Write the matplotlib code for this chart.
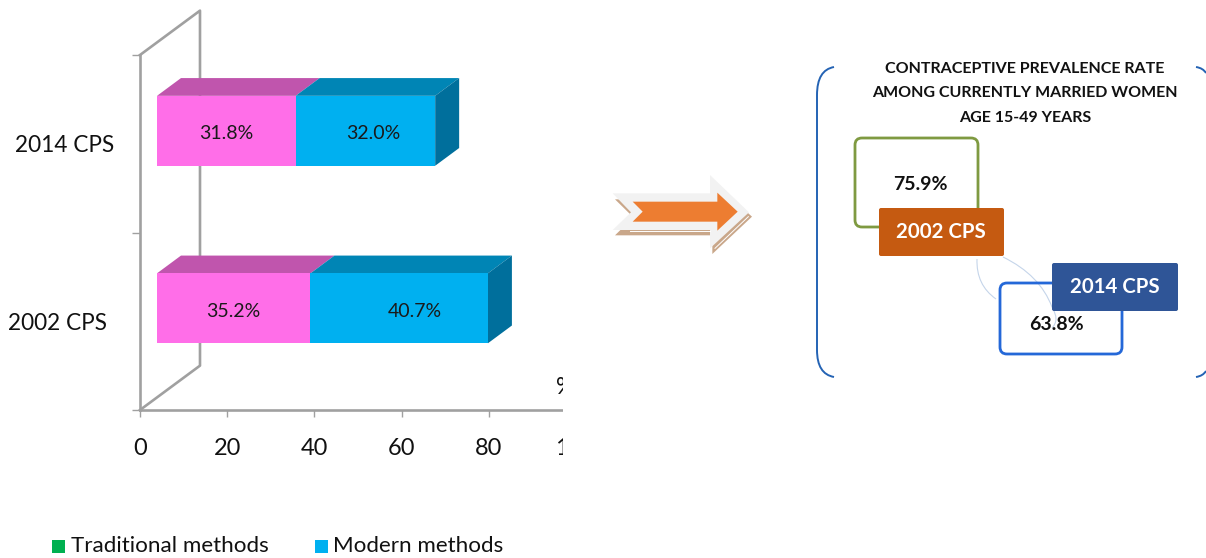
import matplotlib
matplotlib.use('Agg')
import matplotlib.pyplot as plt
from matplotlib.patches import FancyBboxPatch, PathPatch, Polygon, Rectangle
from matplotlib.path import Path

plt.rcParams['font.family'] = ['Lato', 'DejaVu Sans']

surveys = ['2002 CPS', '2014 CPS']
traditional = [35.2, 31.8]
modern = [40.7, 32.0]
x_ticks = [0, 20, 40, 60, 80, 100]
totals = ['75.9%', '63.8%']
title_lines = ['CONTRACEPTIVE PREVALENCE RATE',
               'AMONG CURRENTLY MARRIED WOMEN',
               'AGE 15-49 YEARS']

W, H = 1206, 558
GREY = '#a0a0a0'

fig = plt.figure(figsize=(W / 100, H / 100), dpi=100)
fig.patch.set_facecolor('white')

# chart axes, placed in pixels: 4.36 px per percent, 177.5 px per category
ax = fig.add_axes([140 / W, 1 - 410 / H, 105 * 4.36 / W, 355 / H])
ax.patch.set_alpha(0)
ax.set_xlim(0, 105)
ax.set_ylim(-0.5, 1.5)

# 3d look of the bars
x0 = 3.9
dx, dy = 5.5, 0.10
bar_h = 0.394
y_shift = 0.073


def block(left, width, y, front, top, side=None):
    ax.barh(y, width, bar_h, left=left, color=front, zorder=4)
    b = y + bar_h / 2
    ax.fill([left, left + width, left + width + dx, left + dx],
            [b, b, b + dy, b + dy], color=top, lw=0, zorder=3)
    if side:
        r = left + width
        ax.fill([r, r + dx, r + dx, r],
                [b, b + dy, b + dy - bar_h, b - bar_h], color=side, lw=0, zorder=3)


# back wall of the chart
ax.plot([0, 13.76, 13.76, 0], [1.5, 1.75, -0.25, -0.5], color=GREY, lw=1.9,
        clip_on=False, zorder=1)

label_nudge = [16 / 4.36, 8 / 4.36]
for i in range(len(surveys)):
    y = i + y_shift
    block(x0, traditional[i], y, '#ff6ee8', '#c055ad')
    block(x0 + traditional[i], modern[i], y, '#00b0f0', '#0085b5', '#006f9c')
    ax.text(x0 + traditional[i] / 2, y - 0.016, f'{traditional[i]:.1f}%',
            ha='center', va='center', fontsize=14, color='#1a1a1a', zorder=5)
    ax.text(x0 + traditional[i] + modern[i] / 2 + label_nudge[i], y - 0.016,
            f'{modern[i]:.1f}%', ha='center', va='center', fontsize=14,
            color='#1a1a1a', zorder=5)

for s in ['top', 'right']:
    ax.spines[s].set_visible(False)
for s in ['left', 'bottom']:
    ax.spines[s].set_color(GREY)
    ax.spines[s].set_linewidth(1.9)
ax.set_xticks(x_ticks)
ax.set_yticks([-0.5, 0.5, 1.5])
ax.set_yticklabels([])
ax.tick_params(axis='x', color=GREY, length=5, width=1, labelsize=17, pad=15,
               labelcolor='#111111')
ax.tick_params(axis='y', color=GREY, length=6, width=1)

# everything else sits on a pixel-sized overlay
ov = fig.add_axes([0, 0, 1, 1], zorder=5)
ov.set_xlim(0, W)
ov.set_ylim(H, 0)
ov.axis('off')

ov.text(65, 145, surveys[1], ha='center', va='center', fontsize=16.3, color='#111111')
ov.text(58, 323, surveys[0], ha='center', va='center', fontsize=16.3, color='#111111')
ov.text(556, 387, '%', ha='left', va='center', fontsize=17, color='#111111')

# chart frame ends here and cuts off whatever runs past it
ov.add_patch(Rectangle((563, 370), 60, 100, color='white', lw=0, zorder=3))

# legend
ov.add_patch(Rectangle((52, 540), 13, 13, color='#00b050', lw=0))
ov.text(71, 546, 'Traditional methods', va='center', fontsize=16.1, color='#111111')
ov.add_patch(Rectangle((315, 540), 13, 13, color='#00b0f0', lw=0))
ov.text(333, 546, 'Modern methods', va='center', fontsize=16.1, color='#111111')


# arrow between the panels
def arrow_px(pts):
    return [(600 + x / 3, 160 + y / 3) for x, y in pts]


shadow = [(45, 118), (337, 118), (337, 62), (456, 170), (337, 282), (337, 226),
          (45, 226), (100, 172)]
outer = [(38, 100), (330, 100), (330, 45), (447, 157), (330, 265), (330, 210),
         (38, 210), (93, 157)]
inner = [(98, 125), (352, 125), (352, 98), (413, 155), (352, 212), (352, 185),
         (98, 185), (128, 155)]
ov.add_patch(Polygon(arrow_px(shadow), color='#c9a78a', lw=0))
ov.add_patch(Polygon(arrow_px(outer), color='#f2f2f2', lw=0))
ov.add_patch(Polygon(arrow_px(inner), color='#ed7d31', lw=0))
# white slivers inside the shadow
ws = arrow_px([(90, 213), (330, 213)])
ov.plot(*zip(*ws), color='white', lw=0.7)
ws = arrow_px([(345, 265), (445, 170)])
ov.plot(*zip(*ws), color='white', lw=0.7)

# brackets round the right panel
BLUE = '#2463b4'
left_br = Path([(834, 67), (817, 70), (817, 95), (817, 350), (817, 374), (834, 377)],
               [Path.MOVETO, Path.CURVE3, Path.CURVE3, Path.LINETO, Path.CURVE3, Path.CURVE3])
ov.add_patch(PathPatch(left_br, fc='none', ec=BLUE, lw=1.4))
for a, b, c in [((1196, 67), (1203, 68), (1206, 73)), ((1196, 377), (1203, 376), (1206, 371))]:
    ov.add_patch(PathPatch(Path([a, b, c], [Path.MOVETO, Path.CURVE3, Path.CURVE3]),
                           fc='none', ec=BLUE, lw=1.4))

for line, y in zip(title_lines, [69, 93, 118]):
    ov.text(1025, y, line, ha='center', va='center', fontsize=11.5, fontweight='bold',
            color='#111111')


def rbox(x1, y1, x2, y2, rad, **kw):
    ov.add_patch(FancyBboxPatch((x1 + rad, y1 + rad), x2 - x1 - 2 * rad, y2 - y1 - 2 * rad,
                                boxstyle=f'round,pad={rad},rounding_size={rad}', **kw))


# thin connector lines
for pts in [[(1003, 257), (1040, 275), (1052, 307)], [(977, 259), (976, 285), (996, 299)],
            [(1052, 307), (1060, 320), (1052, 328)]]:
    ov.add_patch(PathPatch(Path(pts, [Path.MOVETO, Path.CURVE3, Path.CURVE3]),
                           fc='none', ec='#c5d5ea', lw=0.8))

rbox(855, 138, 978, 227, 7, fc='none', ec='#7f9a41', lw=2)
rbox(1000, 283, 1122, 354, 7, fc='none', ec='#2468d8', lw=2)
rbox(879, 208, 1004, 256, 2, fc='#c55a11', ec='none', zorder=3)
rbox(1052, 263, 1178, 311, 2, fc='#2f5597', ec='none', zorder=3)

ov.text(920, 185, totals[0], ha='center', va='center', fontsize=14, fontweight='bold',
        color='#111111')
ov.text(1056, 325, totals[1], ha='center', va='center', fontsize=14, fontweight='bold',
        color='#111111')
ov.text(941, 232, surveys[0], ha='center', va='center', fontsize=14.7, fontweight='bold',
        color='white', zorder=4)
ov.text(1115, 287, surveys[1], ha='center', va='center', fontsize=14.7, fontweight='bold',
        color='white', zorder=4)

fig.savefig('out.png', dpi=100)
